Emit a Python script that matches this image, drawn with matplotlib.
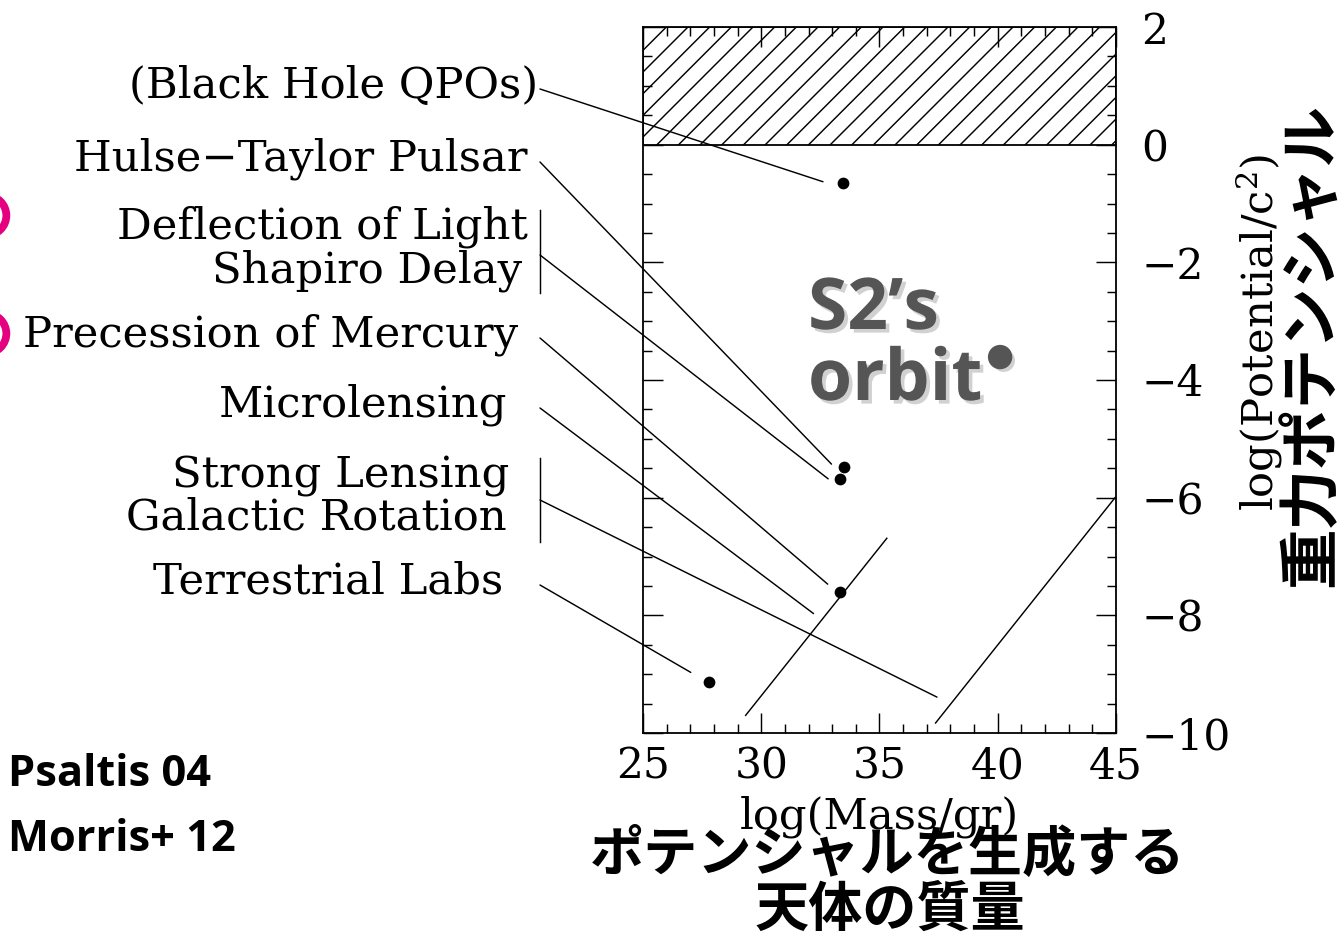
import matplotlib
matplotlib.use('Agg')
import matplotlib.pyplot as plt
import matplotlib.patheffects as pe
from matplotlib.lines import Line2D
from matplotlib.ticker import MultipleLocator

# ---------------- data ----------------
label_names = ['(Black Hole QPOs)', 'Hulse\u2212Taylor Pulsar', 'Deflection of Light',
               'Shapiro Delay', 'Precession of Mercury', 'Microlensing',
               'Strong Lensing', 'Galactic Rotation', 'Terrestrial Labs']

# measured systems (log mass [g], log potential/c^2)
dot_mass = [33.47, 33.51, 33.31, 33.31, 27.80]
dot_pot = [-0.65, -5.48, -5.68, -7.61, -9.14]

# leader-line targets, one per label group
leader_mass = [32.61, 32.97, 32.83, 32.81, 32.21, 37.43, 27.02]
leader_pot = [-0.63, -5.43, -5.68, -7.47, -7.97, -9.39, -8.97]

# two slanted reference lines
lineA_mass = [29.34, 35.31]
lineA_pot = [-9.70, -6.69]
lineB_mass = [37.37, 44.96]
lineB_pot = [-9.83, -6.00]

# S2 orbit point
s2_mass = [40.1]
s2_pot = [-3.61]

# excluded region (potential > 1)
excl_low, excl_high = 0, 2

x_ticks = [25, 30, 35, 40, 45]
y_ticks = [2, 0, -2, -4, -6, -8, -10]

# ---------------- layout ----------------
W, H, DPI = 1341, 936, 130
def fx(px):
    return px / W
def fy(py):
    return 1 - py / H

SERIF = 'DejaVu Serif'
FS = 24
TFS = 23.5

fig = plt.figure(figsize=(W / DPI, H / DPI), dpi=DPI)
fig.patch.set_facecolor('white')
plt.rcParams['hatch.linewidth'] = 0.8
plt.rcParams['mathtext.fontset'] = 'dejavuserif'

ax = fig.add_axes([fx(643), fy(733), (1116 - 643) / W, (733 - 27) / H])
ax.set_xlim(25, 45)
ax.set_ylim(-10, 2)

ax.axhspan(excl_low, excl_high, facecolor='none', edgecolor='black', hatch='//', linewidth=1.0)

ax.plot(lineA_mass, lineA_pot, color='black', lw=0.8)
ax.plot(lineB_mass, lineB_pot, color='black', lw=0.8)
ax.plot(dot_mass, dot_pot, 'o', color='black', ms=5.5, zorder=5)

shadow = [pe.withSimplePatchShadow(offset=(2, -2), shadow_rgbFace='#999999', alpha=0.45)]
ax.plot(s2_mass, s2_pot, 'o', color='#555555', ms=12.5, zorder=6, path_effects=shadow)

ax.xaxis.set_major_locator(MultipleLocator(5))
ax.xaxis.set_minor_locator(MultipleLocator(1))
ax.yaxis.set_major_locator(MultipleLocator(2))
ax.yaxis.set_minor_locator(MultipleLocator(0.5))
ax.set_xticks(x_ticks)
ax.set_yticks(y_ticks)
ax.tick_params(which='both', direction='in', top=True, bottom=True, left=True, right=True,
               labelleft=False, labelright=True, width=0.8, color='black')
ax.tick_params(which='major', length=11, labelsize=TFS)
ax.tick_params(which='minor', length=5)
ax.tick_params(axis='x', pad=7)
ax.tick_params(axis='y', pad=14)
for lab in ax.get_xticklabels() + ax.get_yticklabels():
    lab.set_family(SERIF)
for s in ax.spines.values():
    s.set_linewidth(1.0)

ax.set_xlabel('log(Mass/gr)', family=SERIF, fontsize=FS)
ax.xaxis.set_label_coords(0.5, (733 - 796) / 706)
ax.yaxis.set_label_position('right')
ax.set_ylabel('log(Potential/c$^{2}$)', family=SERIF, fontsize=FS)
ax.yaxis.set_label_coords((1234 - 643) / 473, (733 - 332) / 706)

# labels on the left
label_right = [538, 528, 528, 522, 518, 507, 509, 507, 503]
label_base = [98, 170, 238, 282, 347, 417, 487, 530, 593]
for name, xr, yb in zip(label_names, label_right, label_base):
    fig.text(fx(xr), fy(yb), name, ha='right', va='baseline', family=SERIF, fontsize=FS)

# leader lines
leader_start = [89, 162, 255, 338, 408, 500, 585]
for m, p, ys in zip(leader_mass, leader_pot, leader_start):
    ax.annotate('', xy=(m, p), xycoords='data', xytext=(fx(540), fy(ys)),
                textcoords='figure fraction', annotation_clip=False,
                arrowprops=dict(arrowstyle='-', lw=0.8, color='black', shrinkA=0, shrinkB=0))

# brackets
for y0, y1 in [(210, 293), (458, 542)]:
    fig.add_artist(Line2D([fx(540), fx(540)], [fy(y0), fy(y1)], color='black', lw=0.8))

# magenta marks at left edge
for yc in [215, 333]:
    fig.add_artist(Line2D([fx(-14)], [fy(yc)], marker='o', markersize=22, mfc='none',
                          mec='#E5007F', mew=4.3, linestyle='none'))

# S2's orbit text
for txt, yb in [('S2\u2019s', 329), ('orbit', 400)]:
    fig.text(fx(808), fy(yb), txt, family='Open Sans', weight='bold', fontsize=39.5,
             color='#555555', va='baseline', ha='left', path_effects=shadow)

# Japanese axis captions
fig.text(fx(1312), fy(345), '重力ポテンシャル', rotation=90, ha='center', va='center',
         family=['Noto Sans CJK JP', 'DejaVu Sans'], weight='bold', fontsize=33.5)
fig.text(fx(888), fy(855), 'ポテンシャルを生成する', ha='center', va='center',
         family=['Noto Sans CJK JP', 'DejaVu Sans'], weight='bold', fontsize=30)
fig.text(fx(890), fy(910), '天体の質量', ha='center', va='center',
         family=['Noto Sans CJK JP', 'DejaVu Sans'], weight='bold', fontsize=30)

# references
fig.text(fx(8), fy(786), 'Psaltis 04', family='Open Sans', weight='bold', fontsize=24, va='baseline')
fig.text(fx(8), fy(851), 'Morris+ 12', family='Open Sans', weight='bold', fontsize=24, va='baseline')

fig.savefig('out.png', dpi=DPI, facecolor='white')
